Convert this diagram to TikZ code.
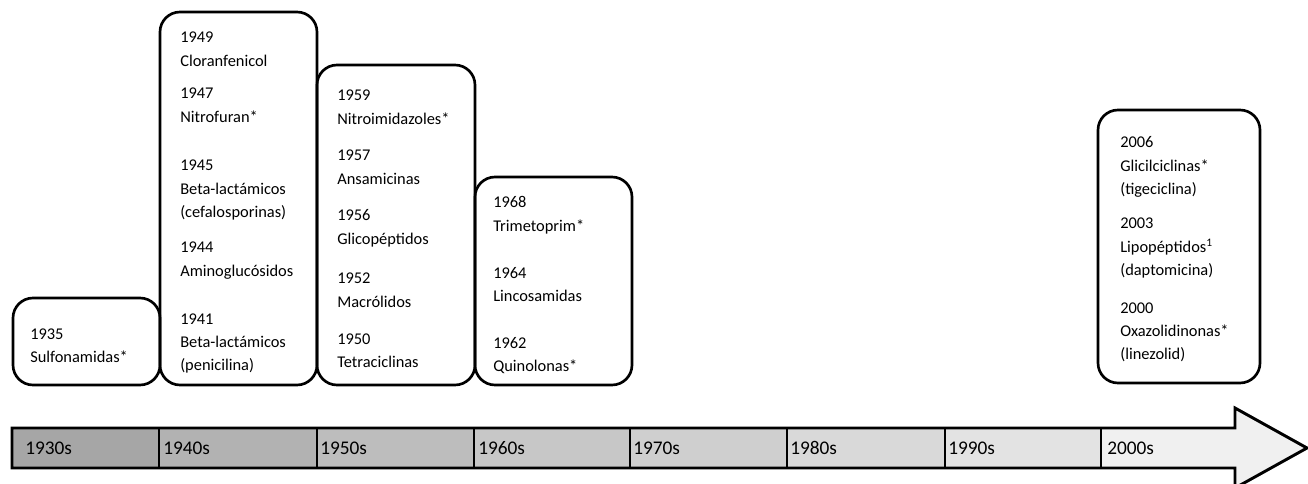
\documentclass[tikz,border=0pt]{standalone}
\usepackage{fontspec}
\setmainfont{Carlito}
\usetikzlibrary{fit}

\begin{document}
\begin{tikzpicture}[
    x=0.75pt,y=-0.75pt,
    every node/.style={font=\fontsize{12.3}{17.5}\selectfont},
    era/.style={draw=black, rounded corners=15pt, line width=2pt, inner sep=0pt},
    entry/.style={anchor=base west, inner sep=0pt, text width=4cm, align=left},
    decade/.style={anchor=west, inner sep=0pt, font=\fontsize{14.5}{16}\selectfont},
    shaft/.style={draw=black, line width=2.2pt, line join=miter},
    cell/.style={draw=black, line width=1.5pt}
]
    \useasboundingbox (0,0) rectangle (1308,484);

    % timeline arrow
    \fill[black!6] (12,428) -- (1235,428) -- (1235,408) -- (1307,448) -- (1235,488) -- (1235,468) -- (12,468) -- cycle;
    \foreach \a/\b/\shade in {12/159/35,159/317/30,317/474/26,474/630/22,630/787/19,787/945/15,945/1101/11} {
        \draw[cell, fill=black!\shade] (\a,428) rectangle (\b,468);
    }
    \draw[shaft] (12,428) -- (1235,428) -- (1235,408) -- (1307,448) -- (1235,488) -- (1235,468) -- (12,468) -- cycle;

    \foreach \x/\dec in {25/1930s,163/1940s,320/1950s,478/1960s,633/1970s,790/1980s,948/1990s,1107/2000s}
        \node[decade] (d\dec) at (\x,448) {\dec};

    % boxes
    \node[era, fit={(13,298) (160,385)}] (box30s) {};
    \node[era, fit={(160,12) (317,385)}] (box40s) {};
    \node[era, fit={(317,65) (475,385)}] (box50s) {};
    \node[era, fit={(475,177) (632,385)}] (box60s) {};
    \node[era, fit={(1098,110) (1260,383)}] (box00s) {};

    \node[entry] (e1935) at (30,339) {1935\\Sulfonamidas*};

    \foreach \y/\yr/\txt in {43/1949/Cloranfenicol,99/1947/Nitrofuran*,
        171/1945/{Beta-lactámicos\\(cefalosporinas)},253/1944/Aminoglucósidos,
        324/1941/{Beta-lactámicos\\(penicilina)}}
        \node[entry] (e\yr) at (180,\y) {\yr\\\txt};

    \foreach \y/\yr/\txt in {101/1959/Nitroimidazoles*,161/1957/Ansamicinas,
        221/1956/Glicopéptidos,284/1952/Macrólidos,344/1950/Tetraciclinas}
        \node[entry] (e\yr) at (337,\y) {\yr\\\txt};

    \foreach \y/\yr/\txt in {208/1968/Trimetoprim*,278/1964/Lincosamidas,348/1962/Quinolonas*}
        \node[entry] (e\yr) at (493,\y) {\yr\\\txt};

    \foreach \y/\yr/\txt in {148/2006/{Glicilciclinas*\\(tigeciclina)},
        229/2003/{Lipopéptidos\textsuperscript{1}\\(daptomicina)},
        313/2000/{Oxazolidinonas*\\(linezolid)}}
        \node[entry] (e\yr) at (1120,\y) {\yr\\\txt};
\end{tikzpicture}
\end{document}
